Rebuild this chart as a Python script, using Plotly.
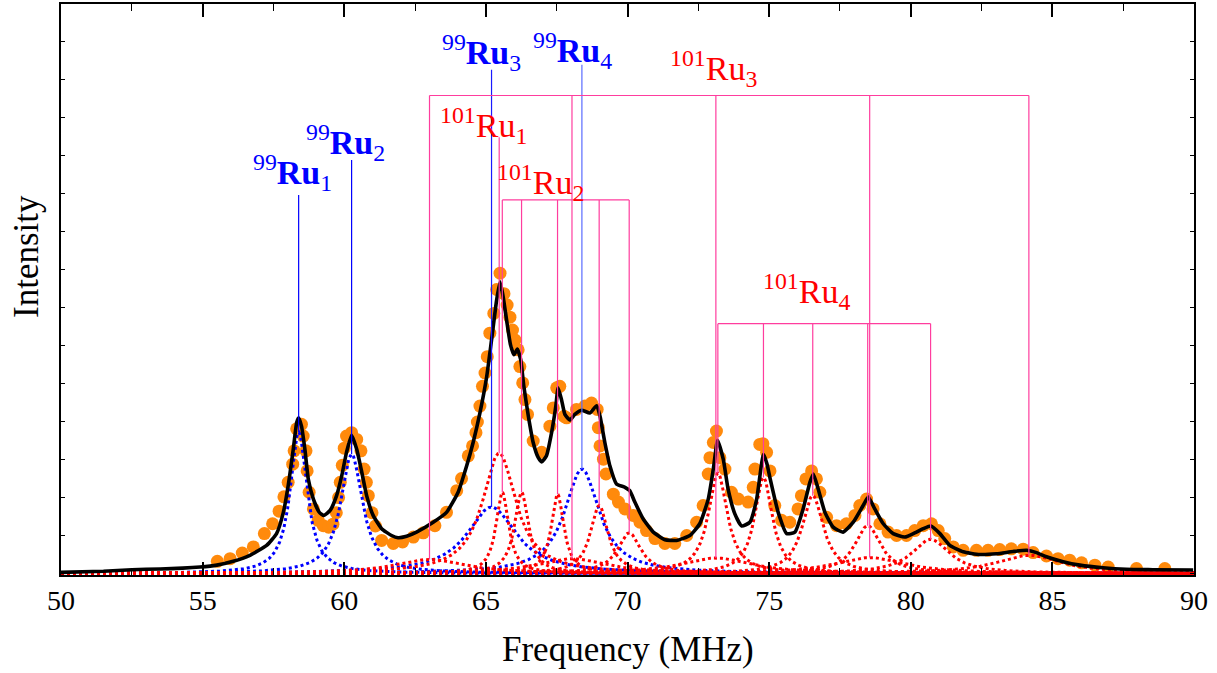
import numpy as np
import plotly.graph_objects as go

# ---------------- data ----------------
# measured spectrum (orange circles): frequency (MHz), intensity (arb.)
data_freq = [55.52, 55.97, 56.40, 56.79, 57.18, 57.47, 57.70, 57.87, 58.02, 58.18,
             58.23, 58.32, 58.49, 58.55, 58.65, 58.69, 58.76, 58.91, 59.08, 59.26,
             59.45, 59.60, 59.72, 59.80, 59.86, 59.93, 60.00, 60.08, 60.26, 60.44,
             60.59, 60.70, 60.78, 60.85, 60.98, 61.10, 61.32, 61.73, 62.06, 62.44,
             62.79, 63.20, 63.61, 63.97, 64.14, 64.38, 64.53, 64.65, 64.70, 64.79,
             64.88, 64.97, 65.05, 65.14, 65.28, 65.38, 65.50, 65.64, 65.75, 65.85,
             65.94, 66.03, 66.14, 66.20, 66.30, 66.38, 66.47, 66.67, 66.97, 67.26,
             67.38, 67.50, 67.61, 67.76, 67.85, 68.20, 68.50, 68.73, 68.93, 68.97,
             69.03, 69.15, 69.24, 69.50, 69.68, 69.91, 70.20, 70.44, 70.67, 70.97,
             71.32, 71.67, 72.09, 72.44, 72.67, 72.85, 72.91, 73.03, 73.14, 73.26,
             73.44, 73.67, 73.91, 74.26, 74.44, 74.50, 74.67, 74.78, 74.91, 75.03,
             75.20, 75.44, 75.73, 76.02, 76.14, 76.30, 76.50, 76.67, 76.79, 77.03,
             77.38, 77.73, 78.03, 78.20, 78.44, 78.67, 78.91, 79.20, 79.50, 79.85,
             80.14, 80.44, 80.73, 80.97, 81.20, 81.50, 81.85, 82.32, 82.73, 83.14,
             83.55, 83.97, 84.32, 84.79, 85.20, 85.61, 86.03, 86.50, 86.97, 87.97,
             88.97]
data_int = [0.32, 0.39, 0.54, 0.70, 1.05, 1.31, 1.64, 2.02, 2.40, 2.88,
            3.23, 3.81, 3.93, 3.62, 3.23, 2.70, 2.14, 1.70, 1.40, 1.26,
            1.22, 1.30, 1.60, 2.00, 2.40, 2.85, 3.30, 3.62, 3.71, 3.53,
            3.23, 2.75, 2.40, 2.05, 1.60, 1.25, 0.87, 0.79, 0.83, 0.96,
            1.07, 1.26, 1.61, 2.18, 2.50, 3.10, 3.36, 3.71, 3.99, 4.41,
            4.93, 5.28, 5.71, 6.33, 6.85, 7.48, 7.91, 7.37, 7.07, 6.75,
            6.41, 6.15, 5.89, 5.45, 5.02, 4.58, 4.19, 3.49, 3.19, 3.88,
            4.36, 4.89, 4.93, 4.14, 4.10, 4.32, 4.41, 4.49, 4.32, 3.84,
            3.36, 3.01, 2.62, 2.09, 1.88, 1.70, 1.53, 1.35, 1.13, 0.92,
            0.79, 0.79, 1.00, 1.35, 1.79, 2.62, 3.05, 3.45, 3.75, 3.05,
            2.75, 2.14, 1.96, 1.88, 2.27, 2.75, 3.40, 3.42, 3.19, 2.70,
            1.79, 1.40, 1.35, 1.70, 2.05, 2.49, 2.70, 2.49, 2.14, 1.48,
            1.26, 1.31, 1.53, 1.79, 1.96, 1.70, 1.31, 1.09, 1.00, 1.00,
            1.13, 1.26, 1.31, 1.13, 0.92, 0.70, 0.61, 0.61, 0.61, 0.63,
            0.65, 0.64, 0.55, 0.46, 0.39, 0.35, 0.28, 0.22, 0.17, 0.13,
            0.13]

# total fit (black solid line)
fit_freq = [50.00, 51.50, 52.50, 53.50, 54.30, 54.91, 55.50, 56.08, 56.67, 57.26,
            57.61, 57.85, 58.02, 58.20, 58.32, 58.39, 58.49, 58.61, 58.73, 58.91,
            59.12, 59.28, 59.50, 59.73, 59.91, 60.08, 60.26, 60.44, 60.61, 60.79,
            61.02, 61.32, 61.67, 61.90, 62.20, 62.55, 63.14, 63.61, 64.02, 64.32,
            64.55, 64.79, 65.03, 65.20, 65.38, 65.50, 65.61, 65.73, 65.87, 65.99,
            66.11, 66.23, 66.34, 66.50, 66.67, 66.85, 66.97, 67.14, 67.32, 67.47,
            67.55, 67.67, 67.79, 67.97, 68.14, 68.38, 68.67, 68.91, 69.03, 69.20,
            69.38, 69.61, 69.91, 70.08, 70.26, 70.55, 70.91, 71.32, 71.73, 72.20,
            72.55, 72.85, 73.03, 73.18, 73.38, 73.55, 73.79, 74.03, 74.32, 74.56,
            74.80, 74.92, 75.05, 75.32, 75.62, 75.91, 76.20, 76.44, 76.56, 76.73,
            76.97, 77.26, 77.61, 77.97, 78.32, 78.50, 78.73, 79.03, 79.38, 79.79,
            80.14, 80.44, 80.71, 81.03, 81.38, 81.85, 82.44, 83.03, 83.62, 84.09,
            84.44, 84.79, 85.38, 85.97, 86.79, 87.61, 88.55, 89.97]
fit_int = [0.03, 0.06, 0.10, 0.12, 0.14, 0.17, 0.22, 0.32, 0.48, 0.74,
           1.05, 1.61, 2.31, 3.27, 3.97, 4.10, 3.88, 3.27, 2.49, 1.96,
           1.61, 1.53, 1.66, 2.05, 2.57, 3.19, 3.64, 3.27, 2.70, 2.05,
           1.53, 1.18, 1.00, 0.94, 0.98, 1.09, 1.35, 1.61, 2.14, 2.83,
           3.45, 4.23, 5.19, 6.15, 7.20, 7.68, 7.29, 6.68, 6.02, 5.76,
           5.91, 5.63, 4.93, 4.14, 3.45, 3.05, 2.94, 3.10, 3.71, 4.41,
           4.89, 4.58, 4.19, 4.04, 4.19, 4.30, 4.23, 4.42, 4.14, 3.45,
           2.83, 2.36, 2.27, 2.18, 1.88, 1.44, 1.09, 0.89, 0.87, 1.00,
           1.31, 1.96, 2.75, 3.50, 3.01, 2.23, 1.57, 1.25, 1.35, 1.96,
           3.14, 2.90, 2.45, 1.61, 1.05, 1.09, 1.70, 2.40, 2.62, 2.23,
           1.61, 1.22, 1.09, 1.35, 1.79, 2.01, 1.70, 1.31, 1.05, 0.96,
           1.07, 1.18, 1.25, 1.05, 0.74, 0.57, 0.50, 0.52, 0.58, 0.61,
           0.55, 0.44, 0.31, 0.22, 0.15, 0.11, 0.10, 0.09]

# fitted line components (Lorentzian): centre (MHz), peak height, half width
ru99_center = [58.39, 60.26, 65.20, 68.39]
ru99_height = [3.72, 3.14, 1.75, 2.75]
ru99_hwhm = [0.36, 0.47, 1.06, 0.74]

ru101_1_center = [65.47]
ru101_1_height = [3.17]
ru101_1_hwhm = [0.72]

ru101_2_center = [65.58, 66.26, 67.53, 69.00, 70.06]
ru101_2_height = [2.14, 2.14, 2.09, 1.79, 1.07]
ru101_2_hwhm = [0.27, 0.30, 0.27, 0.38, 0.50]

ru101_3_center = [63.01, 68.04, 73.12, 78.55, 84.17]
ru101_3_height = [0.37, 0.39, 0.41, 0.42, 0.48]
ru101_3_hwhm = [1.5, 1.5, 1.5, 1.5, 1.4]

ru101_4_center = [73.19, 74.80, 76.54, 78.48, 80.70]
ru101_4_height = [2.64, 2.53, 2.05, 1.26, 0.90]
ru101_4_hwhm = [0.41, 0.38, 0.46, 0.56, 0.81]

# ---------------- figure ----------------
f = np.linspace(50, 90, 1601)


def lorentz(c, h, w):
    return h / (1.0 + ((f - c) / w) ** 2)


fig = go.Figure()

fig.add_trace(go.Scatter(x=data_freq, y=data_int, mode="markers",
                         marker=dict(size=13, color="#ff8a0c", line=dict(width=0)),
                         showlegend=False, hoverinfo="skip"))

for c, h, w in zip(ru99_center, ru99_height, ru99_hwhm):
    fig.add_trace(go.Scatter(x=f, y=lorentz(c, h, w), mode="lines",
                             line=dict(color="#0000ff", width=3, dash="dot"),
                             showlegend=False, hoverinfo="skip"))

red_groups = [(ru101_1_center, ru101_1_height, ru101_1_hwhm),
              (ru101_2_center, ru101_2_height, ru101_2_hwhm),
              (ru101_3_center, ru101_3_height, ru101_3_hwhm),
              (ru101_4_center, ru101_4_height, ru101_4_hwhm)]
for cs, hs, ws in red_groups:
    for c, h, w in zip(cs, hs, ws):
        fig.add_trace(go.Scatter(x=f, y=lorentz(c, h, w), mode="lines",
                                 line=dict(color="#ff0000", width=3, dash="dot"),
                                 showlegend=False, hoverinfo="skip"))

fig.add_trace(go.Scatter(x=fit_freq, y=fit_int, mode="lines",
                         line=dict(color="black", width=3.6, shape="spline", smoothing=0.5),
                         showlegend=False, hoverinfo="skip"))


# stick markers
def sticks(centers, heights, top):
    xs, ys = [], []
    for c, h in zip(centers, heights):
        xs += [c, c, None]
        ys += [h, top, None]
    return xs, ys


def bracket(centers, heights, top):
    xs, ys = sticks(centers, heights, top)
    xs += [min(centers), max(centers)]
    ys += [top, top]
    return xs, ys


blue_tops = [9.97, 10.89, 13.27, 13.40]
blue_cols = ["#0000ff", "#0000ff", "#1a1aff", "#5a6cff"]
for c, h, t, col in zip(ru99_center, ru99_height, blue_tops, blue_cols):
    fig.add_trace(go.Scatter(x=[c, c], y=[h, t], mode="lines",
                             line=dict(color=col, width=1.2),
                             showlegend=False, hoverinfo="skip"))

pink = "#ff3d9e"
for cs, hs, top in [(ru101_1_center, ru101_1_height, 11.49)]:
    xs, ys = sticks(cs, hs, top)
    fig.add_trace(go.Scatter(x=xs, y=ys, mode="lines", line=dict(color=pink, width=1.2),
                             showlegend=False, hoverinfo="skip"))
for cs, hs, top in [(ru101_2_center, ru101_2_height, 9.84),
                    (ru101_3_center, ru101_3_height, 12.59),
                    (ru101_4_center, ru101_4_height, 6.58)]:
    xs, ys = bracket(cs, hs, top)
    fig.add_trace(go.Scatter(x=xs, y=ys, mode="lines", line=dict(color=pink, width=1.2),
                             showlegend=False, hoverinfo="skip"))

labels = [
    ("<sup>99</sup><b>Ru</b><sub>1</sub>", 58.19, 10.55, "#0000ff"),
    ("<sup>99</sup><b>Ru</b><sub>2</sub>", 60.06, 11.34, "#0000ff"),
    ("<sup>99</sup><b>Ru</b><sub>3</sub>", 64.86, 13.72, "#0000ff"),
    ("<sup>99</sup><b>Ru</b><sub>4</sub>", 68.07, 13.77, "#0000ff"),
    ("<sup>101</sup>Ru<sub>1</sub>", 64.90, 11.81, "#ff0000"),
    ("<sup>101</sup>Ru<sub>2</sub>", 66.94, 10.31, "#ff0000"),
    ("<sup>101</sup>Ru<sub>3</sub>", 73.02, 13.30, "#ff0000"),
    ("<sup>101</sup>Ru<sub>4</sub>", 76.33, 7.43, "#ff0000"),
]
for txt, x, y, col in labels:
    fig.add_annotation(x=x, y=y, text=txt, showarrow=False, xanchor="center", yanchor="middle",
                       font=dict(family="Liberation Serif", size=34, color=col))

# axis titles
fig.add_annotation(x=0.5004, y=-0.131, xref="paper", yref="paper", text="Frequency (MHz)",
                   showarrow=False, xanchor="center", yanchor="middle",
                   font=dict(family="Liberation Serif", size=35, color="black"))
fig.add_annotation(x=-0.030, y=0.557, xref="paper", yref="paper", text="Intensity",
                   textangle=-90, showarrow=False, xanchor="center", yanchor="middle",
                   font=dict(family="Liberation Serif", size=35, color="black"))

axis_common = dict(showline=True, linecolor="black", linewidth=1.5, mirror="ticks",
                   ticks="inside", tickcolor="black", showgrid=False, zeroline=False)

fig.update_xaxes(range=[50, 90], dtick=5, tick0=50, ticklen=13, tickwidth=1.5,
                 minor=dict(dtick=2.5, tick0=50, ticks="inside", ticklen=7, tickwidth=1.2,
                            tickcolor="black", showgrid=False),
                 tickfont=dict(family="Liberation Serif", size=28, color="black"),
                 **axis_common)
fig.update_yaxes(range=[-0.04, 15.0], dtick=1, tick0=0, ticklen=4, tickwidth=1.2,
                 showticklabels=False, **axis_common)

fig.update_layout(width=1217, height=673, plot_bgcolor="white", paper_bgcolor="white",
                  margin=dict(l=61, r=23, t=2, b=98), showlegend=False)

fig.write_html("out.html", config={"displayModeBar": False},
               post_script="document.body.style.margin='0';")
